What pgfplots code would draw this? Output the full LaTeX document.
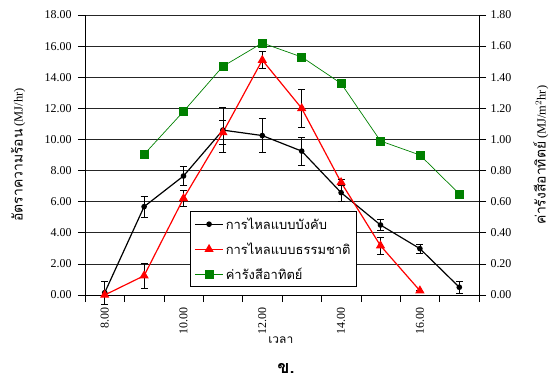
\documentclass[border=0pt]{standalone}
\usepackage{pgfplots}
\usepackage{pgfplotstable}
\pgfplotsset{compat=1.18}
\usepackage{fontspec}
\setmainfont{Liberation Serif}
\newfontfamily\thaifont[Script=Thai]{Loma}

\pgfplotstableread{
x y e
0 0.15 0.75
1 5.68 0.68
2 7.65 0.60
3 10.60 1.45
4 10.25 1.08
5 9.25 0.90
6 6.58 0.55
7 4.50 0.35
8 2.98 0.30
9 0.50 0.40
}\forced
\pgfplotstableread{
x y e
0 0.00 0.00
1 1.24 0.80
2 6.21 0.50
3 10.45 0.75
4 15.10 0.55
5 12.00 1.25
6 7.24 0.20
7 3.17 0.55
8 0.28 0.00
}\natural
\pgfplotstableread{
x y
1 0.904
2 1.18
3 1.47
4 1.62
5 1.53
6 1.36
7 0.99
8 0.90
9 0.65
}\solar

\begin{document}
\begin{tikzpicture}
\path[use as bounding box] (-85bp,-87bp) rectangle (472bp,295bp);
\begin{axis}[
  at={(0,0)}, anchor=south west,
  scale only axis, width=394bp, height=280bp,
  xmin=-0.5, xmax=9.5, ymin=0, ymax=18,
  axis x line*=bottom, axis y line*=left,
  axis line style={black, line width=0.8pt},
  tick align=outside, major tick length=7bp,
  tick style={black, line width=0.6pt},
  ytick={0,2,4,6,8,10,12,14,16,18},
  ymajorgrids, major grid style={black!85, line width=0.6pt},
  xtick={-0.5,0.5,1.5,2.5,3.5,4.5,5.5,6.5,7.5,8.5,9.5},
  xticklabels={},
  extra x ticks={0,2,4,6,8},
  extra x tick labels={8.00,10.00,12.00,14.00,16.00},
  extra x tick style={major tick length=0pt, grid=none,
    xticklabel style={rotate=90, anchor=east, xshift=-9bp}},
  /pgf/number format/assume math mode=true,
  yticklabel style={xshift=-3bp, /pgf/number format/fixed, /pgf/number format/fixed zerofill, /pgf/number format/precision=2},
  tick label style={font=\fontsize{12}{14}\selectfont},
  ylabel={{\thaifont\fontsize{14}{16}\selectfont อัตราความร้อน} (MJ/hr)},
  every axis y label/.style={at={(axis description cs:-0.17,0.5)}, rotate=90, anchor=center,
    font=\fontsize{12.5}{14}\selectfont},
  xlabel={\thaifont เวลา},
  every axis x label/.style={at={(axis description cs:0.497,-0.162)}, anchor=center,
    font=\fontsize{12}{13}\selectfont},
  clip=false,
]
\addplot[black, line width=1.2pt, mark=*, mark size=2.2pt,
  error bars/.cd, y dir=both, y explicit,
  error bar style={black, line width=0.6pt},
  error mark options={rotate=90, mark size=3.5bp, black, line width=0.6pt}]
  table[x=x, y=y, y error=e] {\forced};
\addplot[red, line width=1.2pt, mark=triangle*, mark size=4.2pt,
  error bars/.cd, y dir=both, y explicit,
  error bar style={black, line width=0.6pt},
  error mark options={rotate=90, mark size=3.5bp, black, line width=0.6pt}]
  table[x=x, y=y, y error=e] {\natural};
\node[font=\thaifont\bfseries\fontsize{18}{20}\selectfont] at (rel axis cs:0.51,-0.262) {ข.};
\end{axis}
\begin{axis}[
  at={(0,0)}, anchor=south west,
  scale only axis, width=394bp, height=280bp,
  xmin=-0.5, xmax=9.5, ymin=0, ymax=1.8,
  axis x line=none, axis y line*=right,
  axis line style={black, line width=0.8pt},
  tick align=outside, major tick length=7bp,
  tick style={black, line width=0.6pt},
  ytick={0,0.2,0.4,0.6,0.8,1.0,1.2,1.4,1.6,1.8},
  /pgf/number format/assume math mode=true,
  yticklabel style={xshift=1bp, /pgf/number format/fixed, /pgf/number format/fixed zerofill, /pgf/number format/precision=2},
  tick label style={font=\fontsize{12}{14}\selectfont},
  ylabel={{\thaifont\fontsize{14}{16}\selectfont ค่ารังสีอาทิตย์} (MJ/m$^{2}$hr)},
  every axis y label/.style={at={(axis description cs:1.157,0.5)}, rotate=90, anchor=center,
    font=\fontsize{12.5}{14}\selectfont},
  legend style={at={(0.2665,0.0286)}, anchor=south west, draw=black, fill=white,
    line width=0.6pt, font=\thaifont\fontsize{13}{15}\selectfont,
    inner xsep=4bp, inner ysep=4bp, row sep=8bp},
  legend cell align=left,
  legend image code/.code={\draw[mark repeat=2, mark phase=2, #1] plot coordinates {(0cm,0cm) (0.5cm,0cm) (1cm,0cm)};},
]
\addlegendimage{black, line width=1.2pt, mark=*, mark size=2.2pt}
\addlegendentry{การไหลแบบบังคับ}
\addlegendimage{red, line width=1.2pt, mark=triangle*, mark size=4.2pt}
\addlegendentry{การไหลแบบธรรมชาติ}
\addplot[color={rgb,255:red,0;green,128;blue,0}, line width=0.7pt, mark=square*, mark size=4pt]
  table[x=x, y=y] {\solar};
\addlegendentry{ค่ารังสีอาทิตย์}
\end{axis}
\end{tikzpicture}
\end{document}
